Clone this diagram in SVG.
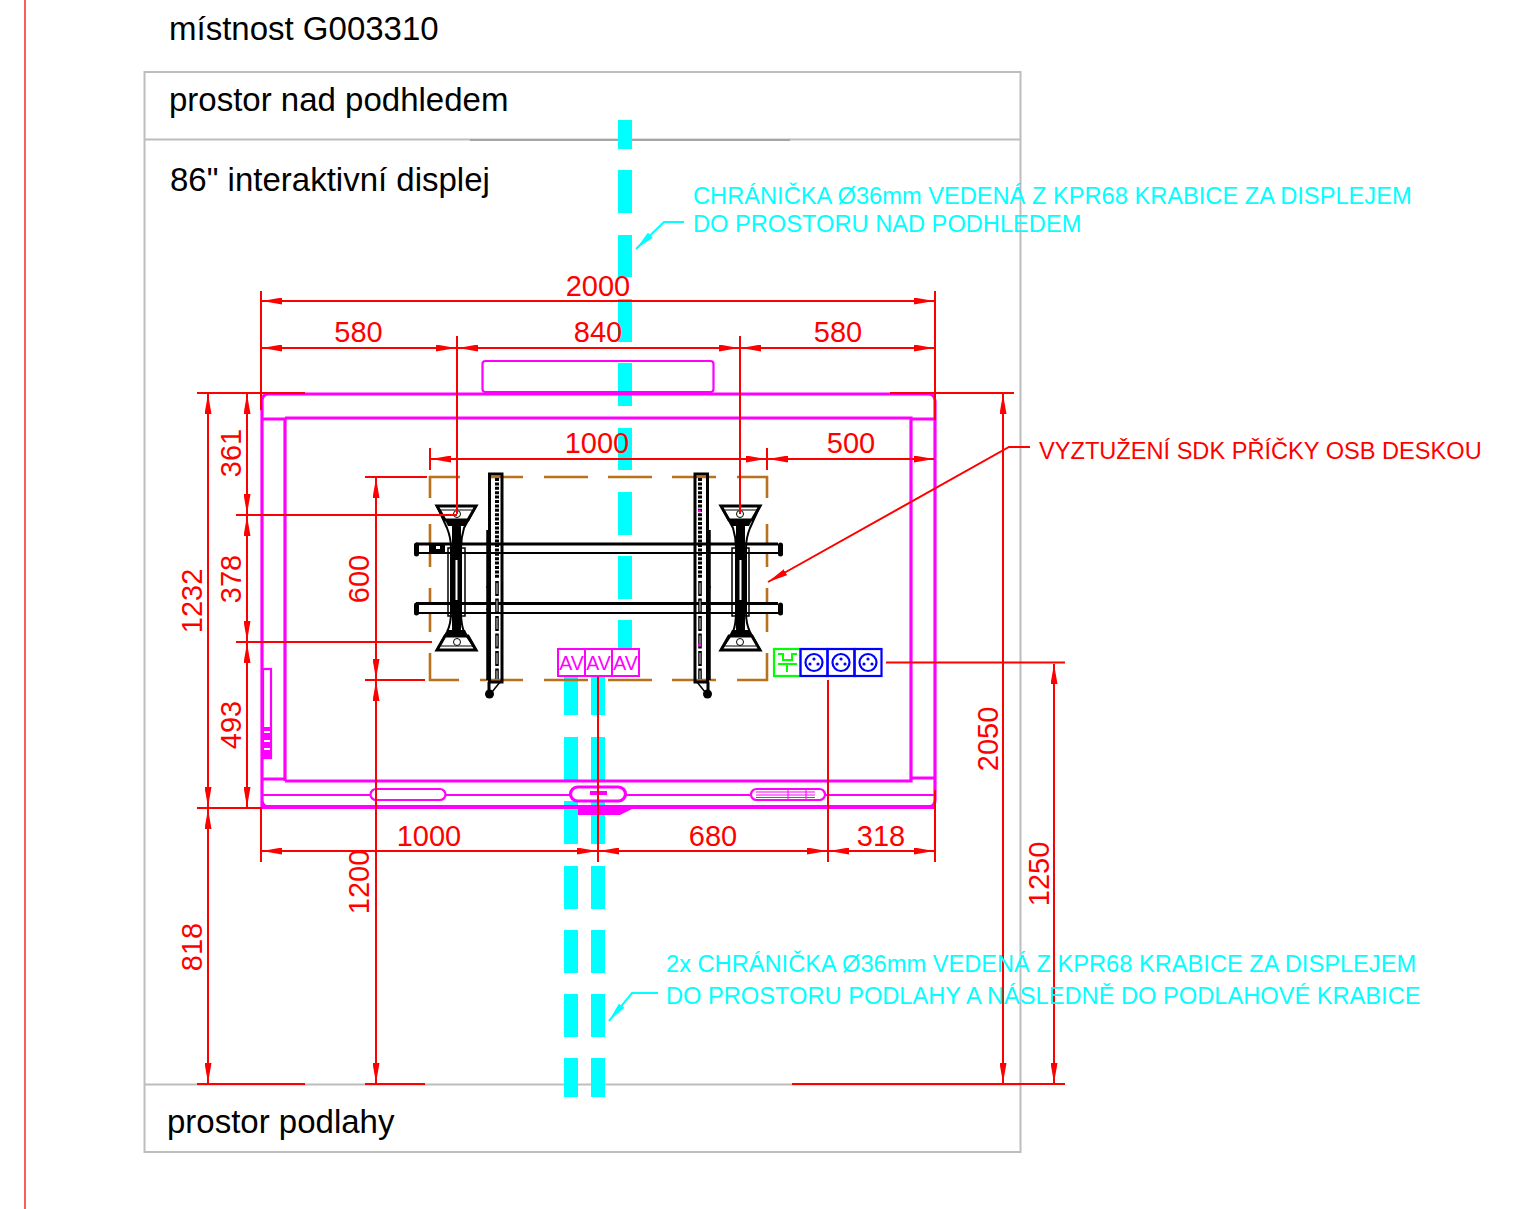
<svg xmlns="http://www.w3.org/2000/svg" width="1530" height="1209" viewBox="0 0 1530 1209">
<style>
text{font-family:"Liberation Sans",Arial,sans-serif}
.t{font-size:33px;fill:#000}
.d{font-size:29px;fill:#f00}
.c{font-size:23.650px;fill:#00ffff}
.g{fill:none;stroke:#bdbdbd;stroke-width:2}
.r{fill:none;stroke:#f00;stroke-width:2}
.m{fill:none;stroke:#f0f;stroke-width:3.200}
.m2{fill:none;stroke:#f0f;stroke-width:2.200}
.cy{fill:#00ffff}
.o{fill:none;stroke:#b8721d;stroke-width:2.600}
.bl{fill:none;stroke:#00f;stroke-width:2.200}
</style>
<defs>
<marker id="a" viewBox="0 0 20 7" refX="20" refY="3.5" markerWidth="20" markerHeight="7" markerUnits="userSpaceOnUse" orient="auto-start-reverse"><path d="M0 0L20 3.5L0 7z" fill="#f00"/></marker>
<marker id="ac" viewBox="0 0 20 7" refX="20" refY="3.5" markerWidth="20" markerHeight="7" markerUnits="userSpaceOnUse" orient="auto"><path d="M0 0L20 3.5L0 7z" fill="#00ffff"/></marker>
<g id="bracket">
<path d="M437 506H476L464 528Q461 538 461 548V612Q461 624 464 632L476 650H437L447 632Q451 624 451 612V548Q451 538 447 528Z" fill="none" stroke="#000" stroke-width="2"/>
<path d="M437 506H476L468 520H445Z" fill="none" stroke="#000" stroke-width="3"/>
<path d="M437 650H476L468 636H445Z" fill="none" stroke="#000" stroke-width="3"/>
<path d="M445 520H468L465 526H448ZM445 636H468L465 630H448Z" fill="#000"/>
<path d="M440 510H472M441 646H473" stroke="#000" stroke-width="1"/>
<rect x="452" y="524" width="9" height="108" rx="3" fill="#000"/>
<rect x="455.500" y="560" width="2" height="40" fill="#fff"/>
<rect x="448" y="548" width="17" height="68" fill="none" stroke="#000" stroke-width="1.500"/>
<circle cx="457" cy="514" r="3.500" fill="#fff" stroke="#000"/>
<circle cx="457" cy="642" r="3.500" fill="#fff" stroke="#000"/>
</g>
<g id="rail">
<rect x="489.500" y="474" width="12.500" height="208" fill="none" stroke="#000" stroke-width="3"/>
<path d="M497 478V578" stroke="#000" stroke-width="4" stroke-dasharray="3 1.400" fill="none"/>
<path d="M497 581V679" stroke="#000" stroke-width="3.600" stroke-dasharray="15 2.500" fill="none"/>
<path d="M497 583V679" stroke="#ddd" stroke-width="1" stroke-dasharray="11 6.500" fill="none"/>
<path d="M488 530V680" stroke="#000" stroke-width="3.500" fill="none"/>
<path d="M486 545h5v-14zM486 588h4v-12zM486 610h4v-10z" fill="#000"/>
<path d="M489 682V692" stroke="#000" stroke-width="3"/>
<path d="M500 682L492 692" stroke="#000" stroke-width="1.500"/>
<circle cx="489.500" cy="694" r="4.500" fill="#000"/>
</g>
</defs>
<path d="M25 0V1209" stroke="#f42c1c" stroke-width="1.500" fill="none"/>
<g id="rooms">
<rect x="144.500" y="72" width="876" height="1080" class="g"/>
<path d="M145 139.500H1020M145 1084.500H1020" class="g"/>
<path d="M470 140H790" stroke="#a5a5a5" stroke-width="2"/>
<text x="169" y="40" class="t">místnost G003310</text>
<text x="169" y="111" class="t">prostor nad podhledem</text>
<text x="170" y="191" class="t">86" interaktivní displej</text>
<text x="167" y="1133" class="t">prostor podlahy</text>
</g>
<g id="conduits">
<path class="cy" d="M618 120h14v29h-14zM618 170h14v43h-14zM618 235h14v42h-14zM618 299h14v43h-14zM618 363h14v43h-14zM618 428h14v42h-14zM618 492h14v43h-14zM618 556h14v43h-14zM618 620h14v29h-14z"/>
<path class="cy" d="M564 677h14v38h-14zM564 737h14v43h-14zM564 801h14v43h-14zM564 866h14v43h-14zM564 930h14v43h-14zM564 994h14v43h-14zM564 1058h14v39h-14z"/>
<path class="cy" d="M591 677h14v38h-14zM591 737h14v43h-14zM591 801h14v43h-14zM591 866h14v43h-14zM591 930h14v43h-14zM591 994h14v43h-14zM591 1058h14v39h-14z"/>
</g>
<g id="display">
<path d="M262 807V401Q262 394 269 394H928Q935 394 935 401V800Q935 807 928 807H269Q262 807 262 800" class="m"/>
<path d="M262 807H935" stroke="#f0f" stroke-width="4" fill="none"/>
<path d="M262 419H285V781M285 418H911V781H285M911 419H935M262 779H285M911 778H935" class="m"/>
<rect x="482.500" y="361" width="231" height="31" rx="3" class="m2"/>
<path d="M262 795H370M446 795H570M626 795H750M826 795H934" class="m2"/>
<rect x="370.500" y="789" width="75" height="11" rx="5.500" class="m2"/>
<rect x="570.500" y="787" width="55" height="14" rx="7" class="m"/>
<rect x="590" y="791" width="17" height="4" fill="#f0f"/>
<rect x="751" y="789" width="74" height="11" rx="5.500" class="m2"/>
<path d="M756 792H815M756 795H815M756 797.500H815M788 790V799M806 790V799" stroke="#f0f" stroke-width="1" fill="none"/>
<path d="M578 808H634L620 815H578Z" fill="#f0f"/>
<rect x="263" y="669" width="8" height="89" class="m2"/>
<rect x="263" y="727" width="8" height="31" fill="#f0f"/>
<path d="M264 732H270M264 741H270M264 749H270" stroke="#fff" stroke-width="2"/>
<g stroke="#f0f" stroke-width="2" fill="#fff">
<rect x="558" y="649" width="27" height="27"/>
<rect x="585" y="649" width="27" height="27"/>
<rect x="612" y="649" width="27" height="27"/>
</g>
<g fill="#f0f" font-size="19.500" text-anchor="middle">
<text x="571.500" y="670">AV</text>
<text x="598.500" y="670">AV</text>
<text x="625.500" y="670">AV</text>
</g>
</g>
<g id="reinforcement">
<path d="M430 498V477H460M491 477H523M544 477H588M608 477H652M672 477H716M737 477H767V498M430 524V567M430 588V632M430 653V680H459M480 680H523M544 680H588M608 680H652M672 680H716M737 680H767V653M767 632V588M767 567V524" class="o"/>
</g>
<g id="mount">
<path d="M420 543H778V553H420ZM420 603H778V613H420Z" fill="#fff" stroke="none"/>
<path d="M416 544H778M416 603.500H778" stroke="#000" stroke-width="3" fill="none"/>
<path d="M416 553H778M416 613H778" stroke="#000" stroke-width="2" fill="none"/>
<path d="M416.500 545V554M416.500 605V613M780.500 545V554M780.500 605V613" stroke="#000" stroke-width="5" stroke-linecap="round"/>
<rect x="429" y="544" width="16" height="9" fill="#000"/>
<rect x="436" y="546" width="4" height="3" fill="#fff"/>
<use href="#bracket"/>
<use href="#bracket" transform="translate(1197 0) scale(-1 1)"/>
<use href="#rail"/>
<use href="#rail" transform="translate(1197 0) scale(-1 1)"/>
<circle cx="699.500" cy="511" r="1.500" fill="#f0f"/>
<circle cx="699.500" cy="645" r="1.500" fill="#f0f"/>
</g>
<g id="outlets">
<rect x="774" y="649" width="26.500" height="27" fill="#fff" stroke="#0f0" stroke-width="2.200"/>
<path d="M778 654H783V660H792V654H797M778 664H797M787 664V672" stroke="#0f0" stroke-width="2" fill="none"/>
<g class="bl">
<rect x="800.500" y="649" width="27" height="27"/><rect x="827.500" y="649" width="27" height="27"/><rect x="854.500" y="649" width="27" height="27"/>
<circle cx="814" cy="662.500" r="8.500"/><circle cx="841" cy="662.500" r="8.500"/><circle cx="868" cy="662.500" r="8.500"/>
</g>
<g fill="#00f"><circle cx="814" cy="659" r="1.600"/><circle cx="810" cy="664" r="1.600"/><circle cx="818" cy="664" r="1.600"/><circle cx="841" cy="659" r="1.600"/><circle cx="837" cy="664" r="1.600"/><circle cx="845" cy="664" r="1.600"/><circle cx="868" cy="659" r="1.600"/><circle cx="864" cy="664" r="1.600"/><circle cx="872" cy="664" r="1.600"/></g>
</g>
<g id="connectors">
<path class="r" d="M261 291V410M935 291V420M457 336V514M740 336V514M197 393H305M890 393H1014M197 808H262M197 1084H305M365 1084H425M792 1084H1065M365 477H427M365 680H425M236 515H457M236 642H432M430 448V470M767 448V470M261 808V862M935 790V862M598 677V862M828 680V862M886 662.500H1065"/>
<path class="r" marker-start="url(#a)" marker-end="url(#a)" d="M262 301H934"/>
<path class="r" marker-start="url(#a)" marker-end="url(#a)" d="M262 348H456"/>
<path class="r" marker-start="url(#a)" marker-end="url(#a)" d="M458 348H739"/>
<path class="r" marker-start="url(#a)" marker-end="url(#a)" d="M741 348H934"/>
<path class="r" marker-start="url(#a)" marker-end="url(#a)" d="M431 459H766"/>
<path class="r" marker-start="url(#a)" marker-end="url(#a)" d="M768 459H934"/>
<path class="r" marker-start="url(#a)" marker-end="url(#a)" d="M262 851H597"/>
<path class="r" marker-start="url(#a)" marker-end="url(#a)" d="M599 851H827"/>
<path class="r" marker-start="url(#a)" marker-end="url(#a)" d="M829 851H934"/>
<path class="r" marker-start="url(#a)" marker-end="url(#a)" d="M208 394V807"/>
<path class="r" marker-start="url(#a)" marker-end="url(#a)" d="M247 394V514"/>
<path class="r" marker-start="url(#a)" marker-end="url(#a)" d="M247 516V641"/>
<path class="r" marker-start="url(#a)" marker-end="url(#a)" d="M247 643V807"/>
<path class="r" marker-start="url(#a)" marker-end="url(#a)" d="M208 809V1083"/>
<path class="r" marker-start="url(#a)" marker-end="url(#a)" d="M376 478V679"/>
<path class="r" marker-start="url(#a)" marker-end="url(#a)" d="M376 681V1083"/>
<path class="r" marker-start="url(#a)" marker-end="url(#a)" d="M1003 394V1083"/>
<path class="r" marker-start="url(#a)" marker-end="url(#a)" d="M1054 664V1083"/>
<path class="r" marker-end="url(#a)" d="M1030 447H1009L768 582"/>
<path fill="none" stroke="#00ffff" stroke-width="2" marker-end="url(#ac)" d="M684 222H664L636 249"/>
<path fill="none" stroke="#00ffff" stroke-width="2" marker-end="url(#ac)" d="M658 993H632L609 1021"/>
</g>
<g id="labels">
<g class="d" text-anchor="middle">
<text x="598" y="296">2000</text><text x="358.500" y="342">580</text><text x="598" y="342">840</text><text x="838" y="342">580</text>
<text x="597" y="453">1000</text><text x="851" y="453">500</text><text x="429" y="846">1000</text><text x="713" y="846">680</text><text x="881" y="846">318</text>
<text transform="translate(202 601) rotate(-90)">1232</text>
<text transform="translate(241 453) rotate(-90)">361</text>
<text transform="translate(241 579) rotate(-90)">378</text>
<text transform="translate(241 725) rotate(-90)">493</text>
<text transform="translate(202 947) rotate(-90)">818</text>
<text transform="translate(369 579) rotate(-90)">600</text>
<text transform="translate(369 882) rotate(-90)">1200</text>
<text transform="translate(998 739) rotate(-90)">2050</text>
<text transform="translate(1049 874) rotate(-90)">1250</text>
</g>
<text x="1039" y="459" fill="#f00" font-size="23.600">VYZTUŽENÍ SDK PŘÍČKY OSB DESKOU</text>
<text x="693" y="204" class="c">CHRÁNIČKA Ø36mm VEDENÁ Z KPR68 KRABICE ZA DISPLEJEM</text>
<text x="693" y="232" class="c">DO PROSTORU NAD PODHLEDEM</text>
<text x="666" y="972" class="c">2x CHRÁNIČKA Ø36mm VEDENÁ Z KPR68 KRABICE ZA DISPLEJEM</text>
<text x="666" y="1004" class="c">DO PROSTORU PODLAHY A NÁSLEDNĚ DO PODLAHOVÉ KRABICE</text>
</g>
</svg>
